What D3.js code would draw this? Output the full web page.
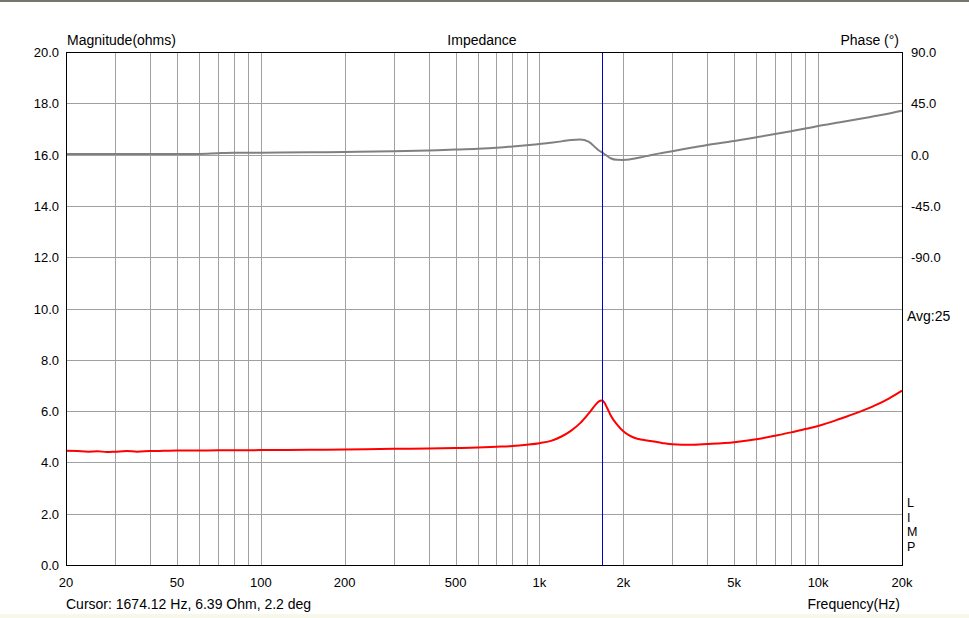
<!DOCTYPE html>
<html>
<head>
<meta charset="utf-8">
<script src="https://cdn.jsdelivr.net/npm/d3@7"></script>
<style>
  body { margin: 0; background: #fff; }
  svg { display: block; }
  text { font-family: "Liberation Sans", Arial, sans-serif; fill: #000; }
</style>
</head>
<body>
<svg id="chart"></svg>
<script>
const WIDTH = 969;
const HEIGHT = 618;
const PLOT = { left: 66, top: 52, right: 902, bottom: 565 };

// frequency points (Hz)
const freqs = [20, 22, 24, 26, 28, 30, 33, 36, 40, 45, 50, 60, 70, 80, 100, 150, 200,
  300, 400, 500, 600, 700, 800, 900, 1000, 1100, 1200, 1300, 1400, 1500, 1600, 1630,
  1674, 1710, 1750, 1800, 1900, 2000, 2100, 2200, 2350, 2500, 2750, 3000, 3500, 4000,
  5000, 6000, 7000, 8000, 9000, 10000, 12000, 14000, 16000, 18000, 20000];
// impedance magnitude (ohms)
const magnitude = [4.46, 4.44, 4.42, 4.43, 4.41, 4.42, 4.44, 4.42, 4.44, 4.45, 4.46, 4.46,
  4.47, 4.47, 4.48, 4.49, 4.50, 4.53, 4.54, 4.56, 4.58, 4.61, 4.64, 4.69, 4.75, 4.84, 5.01,
  5.24, 5.53, 5.90, 6.28, 6.37, 6.41, 6.33, 6.12, 5.84, 5.47, 5.21, 5.05, 4.95, 4.88, 4.83,
  4.76, 4.71, 4.69, 4.72, 4.79, 4.90, 5.04, 5.17, 5.30, 5.42, 5.70, 5.96, 6.22, 6.50, 6.80];
// impedance phase (deg)
const phase = [0.5, 0.5, 0.5, 0.5, 0.5, 0.5, 0.5, 0.5, 0.5, 0.6, 0.6, 0.6, 1.2, 1.6, 1.7,
  2.0, 2.3, 2.9, 3.7, 4.4, 5.1, 6.0, 7.2, 8.2, 9.2, 10.4, 11.6, 12.8, 13.2, 11.4, 5.5, 3.8,
  2.2, 0.5, -1.2, -3.2, -4.6, -4.7, -4.3, -3.5, -2.0, -0.5, 1.4, 3.0, 6.0, 8.5, 12.0, 15.2,
  18.0, 20.5, 22.8, 25.0, 28.3, 31.2, 33.8, 36.1, 38.4];

const xTicks = [20, 50, 100, 200, 500, 1000, 2000, 5000, 10000, 20000];
const xTickLabels = ["20", "50", "100", "200", "500", "1k", "2k", "5k", "10k", "20k"];
const magTicks = [0, 2, 4, 6, 8, 10, 12, 14, 16, 18, 20];
const phaseTicks = [90, 45, 0, -45, -90];
const cursor = { freq: 1674.12, mag: 6.39, phase: 2.2 };

const svg = d3.select("#chart").attr("width", WIDTH).attr("height", HEIGHT);

const x = d3.scaleLog().domain([20, 20000]).range([PLOT.left, PLOT.right]);
const yMag = d3.scaleLinear().domain([0, 20]).range([PLOT.bottom, PLOT.top]);
const yPhase = d3.scaleLinear().domain([-360, 90]).range([PLOT.bottom, PLOT.top]);

// window frame
svg.append("rect").attr("x", 0).attr("y", 0).attr("width", WIDTH).attr("height", 2).attr("fill", "#75756a");
svg.append("rect").attr("x", 0).attr("y", 614).attr("width", WIDTH).attr("height", 4).attr("fill", "#f7f7ea");

// grid
const gridFreqs = [];
for (let dec = 10; dec <= 10000; dec *= 10) {
  for (let m = 1; m <= 9; m++) {
    const f = dec * m;
    if (f > 20 && f < 20000) gridFreqs.push(f);
  }
}
svg.append("g")
  .selectAll("line")
  .data(gridFreqs)
  .join("line")
  .attr("x1", (d) => Math.round(x(d)) + 0.5)
  .attr("x2", (d) => Math.round(x(d)) + 0.5)
  .attr("y1", PLOT.top)
  .attr("y2", PLOT.bottom)
  .attr("stroke", "#a0a0a0");

svg.append("g")
  .selectAll("line")
  .data(magTicks.slice(1, -1))
  .join("line")
  .attr("x1", PLOT.left)
  .attr("x2", PLOT.right)
  .attr("y1", (d) => Math.round(yMag(d)) + 0.5)
  .attr("y2", (d) => Math.round(yMag(d)) + 0.5)
  .attr("stroke", "#a0a0a0");

// curves
const points = freqs.map((f, i) => ({ f, m: magnitude[i], p: phase[i] }));

svg.append("path")
  .datum(points)
  .attr("fill", "none")
  .attr("stroke", "#808080")
  .attr("stroke-width", 2)
  .attr("d", d3.line().x((d) => x(d.f)).y((d) => yPhase(d.p)).curve(d3.curveMonotoneX));

svg.append("path")
  .datum(points)
  .attr("fill", "none")
  .attr("stroke", "#ff0000")
  .attr("stroke-width", 2)
  .attr("d", d3.line().x((d) => x(d.f)).y((d) => yMag(d.m)).curve(d3.curveMonotoneX));

// cursor
svg.append("line")
  .attr("x1", Math.round(x(cursor.freq)) + 0.5)
  .attr("x2", Math.round(x(cursor.freq)) + 0.5)
  .attr("y1", PLOT.top)
  .attr("y2", PLOT.bottom)
  .attr("stroke", "#0000cc");

// frame
svg.append("rect")
  .attr("x", PLOT.left + 0.5)
  .attr("y", PLOT.top + 0.5)
  .attr("width", PLOT.right - PLOT.left)
  .attr("height", PLOT.bottom - PLOT.top)
  .attr("fill", "none")
  .attr("stroke", "#000");

// tick labels
svg.append("g")
  .selectAll("text")
  .data(magTicks)
  .join("text")
  .attr("x", 59)
  .attr("y", (d) => yMag(d) + 5)
  .attr("text-anchor", "end")
  .attr("font-size", 13)
  .text((d) => d.toFixed(1));

svg.append("g")
  .selectAll("text")
  .data(phaseTicks)
  .join("text")
  .attr("x", 911)
  .attr("y", (d) => yPhase(d) + 5)
  .attr("font-size", 13)
  .text((d) => d.toFixed(1));

svg.append("g")
  .selectAll("text")
  .data(xTicks)
  .join("text")
  .attr("x", (d) => x(d))
  .attr("y", 587)
  .attr("text-anchor", "middle")
  .attr("font-size", 13)
  .text((d, i) => xTickLabels[i]);

// titles
svg.append("text").attr("x", 67).attr("y", 45).attr("font-size", 14).text("Magnitude(ohms)");
svg.append("text").attr("x", 482).attr("y", 45).attr("font-size", 14).attr("text-anchor", "middle").text("Impedance");
svg.append("text").attr("x", 899).attr("y", 45).attr("font-size", 14).attr("text-anchor", "end").text("Phase (°)");
svg.append("text").attr("x", 907).attr("y", 321).attr("font-size", 14).text("Avg:25");
svg.append("text").attr("x", 900).attr("y", 609).attr("font-size", 14).attr("text-anchor", "end").text("Frequency(Hz)");
svg.append("text").attr("x", 66).attr("y", 609).attr("font-size", 14)
  .text(`Cursor: ${cursor.freq.toFixed(2)} Hz, ${cursor.mag.toFixed(2)} Ohm, ${cursor.phase.toFixed(1)} deg`);

svg.append("g")
  .selectAll("text")
  .data(["L", "I", "M", "P"])
  .join("text")
  .attr("x", 907)
  .attr("y", (d, i) => 507 + i * 14.5)
  .attr("font-size", 12.5)
  .text((d) => d);
</script>
</body>
</html>
